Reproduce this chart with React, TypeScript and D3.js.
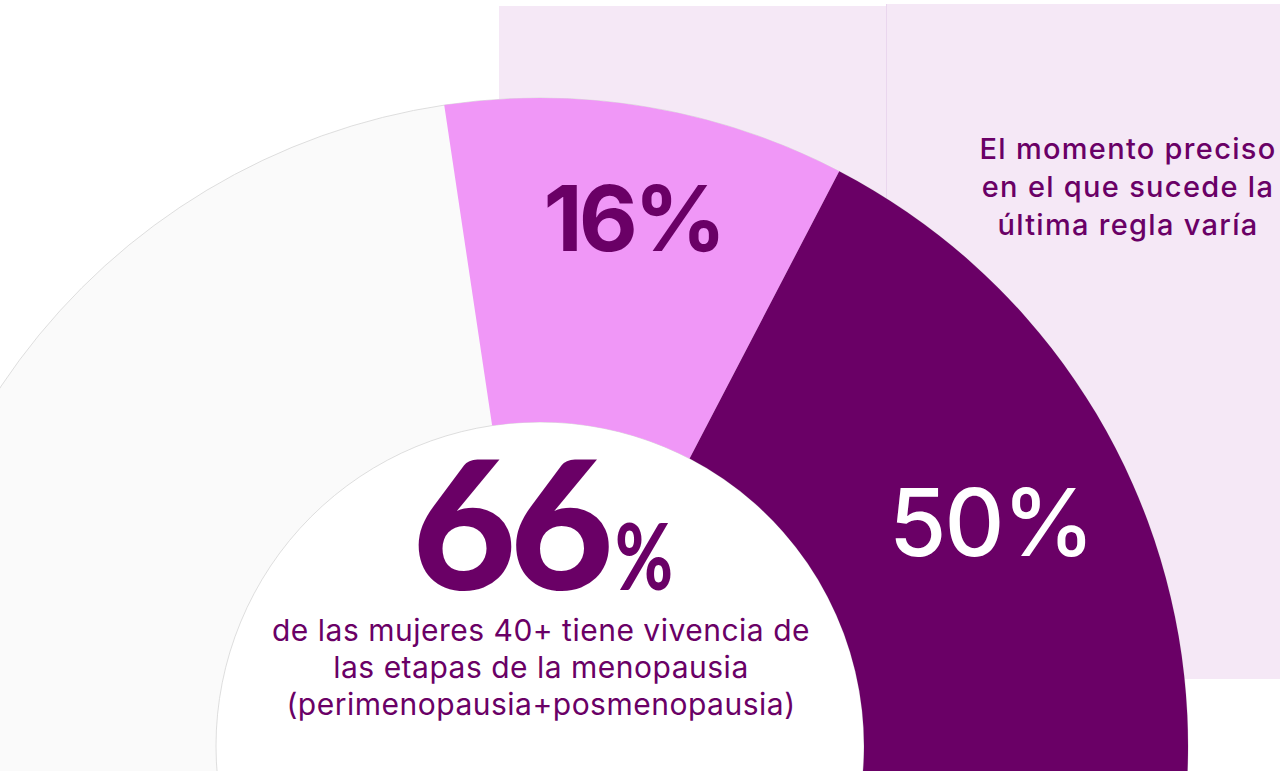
import { useEffect, useRef } from 'react';
import * as d3 from 'd3';

// two stages that add up to the headline figure
const stages = ['perimenopausia', 'posmenopausia'];
const shares = [16, 50];
const shareLabels = ['16%', '50%'];
const totalShare = 66;

const headlineLines = [
  'de las mujeres 40+ tiene vivencia de',
  'las etapas de la menopausia',
  '(perimenopausia+posmenopausia)',
];
const sideNoteLines = ['El momento preciso', 'en el que sucede la', 'última regla varía'];

const PURPLE = '#6a0066';
const PINK = '#f097f7';
const LAVENDER = '#f5e8f6';

const App = () => {
  const svgRef = useRef<SVGSVGElement | null>(null);

  useEffect(() => {
    const width = 1280;
    const height = 771;
    const cx = 540;
    const cy = 746;
    const outerR = 648;
    const innerR = 324;

    const svg = d3.select(svgRef.current).attr('width', width).attr('height', height);
    svg.selectAll('*').remove();

    // background panels behind the ring
    svg.append('rect').attr('x', 499).attr('y', 6).attr('width', 387).attr('height', 673).attr('fill', LAVENDER);
    svg.append('rect').attr('x', 886).attr('y', 4).attr('width', 394).attr('height', 675).attr('fill', LAVENDER);
    svg.append('line')
      .attr('x1', 886.5).attr('x2', 886.5).attr('y1', 4).attr('y2', 679)
      .attr('stroke', '#ead6ee').attr('stroke-width', 1);

    const g = svg.append('g').attr('transform', `translate(${cx},${cy})`);

    // percent -> angle (gauge style, starting a bit left of 12 o'clock)
    const angle = d3.scaleLinear()
      .domain([0, 100])
      .range([(-8.5 * Math.PI) / 180, (216.5 * Math.PI) / 180]);

    const arc = d3.arc<any>().innerRadius(innerR).outerRadius(outerR);

    // white hole
    g.append('circle').attr('r', innerR).attr('fill', '#ffffff');

    // grey track
    g.append('path')
      .attr('d', arc({ startAngle: 0, endAngle: 2 * Math.PI }))
      .attr('fill', '#fafafa')
      .attr('stroke', '#d6d6d6')
      .attr('stroke-width', 0.8);

    const ends = d3.cumsum(shares);
    const segs = stages.map((s, i) => ({
      stage: s,
      startAngle: angle(ends[i] - shares[i]),
      endAngle: angle(ends[i]),
    }));
    const color = d3.scaleOrdinal<string, string>().domain(stages).range([PINK, PURPLE]);

    g.selectAll('.seg')
      .data(segs)
      .enter()
      .append('path')
      .attr('class', 'seg')
      .attr('d', (d) => arc(d))
      .attr('fill', (d) => color(d.stage));

    // share labels
    const labelPos = [
      { x: 633, y: 251, fill: PURPLE, weight: 700, size: 91, ls: -4 },
      { x: 991, y: 556, fill: '#ffffff', weight: 500, size: 93, ls: -2 },
    ];
    svg.selectAll('.share-label')
      .data(shareLabels)
      .enter()
      .append('text')
      .attr('class', 'share-label')
      .attr('x', (_, i) => labelPos[i].x)
      .attr('y', (_, i) => labelPos[i].y)
      .attr('text-anchor', 'middle')
      .style('font-family', 'Inter, sans-serif')
      .style('font-size', (_, i) => `${labelPos[i].size}px`)
      .style('font-weight', (_, i) => labelPos[i].weight)
      .style('letter-spacing', (_, i) => `${labelPos[i].ls}px`)
      .style('fill', (_, i) => labelPos[i].fill)
      .text((d) => d);

    // big total in the middle
    svg.append('text')
      .attr('x', 412)
      .attr('y', 590)
      .style('font-family', 'Lato, sans-serif')
      .style('font-weight', 900)
      .style('font-size', '180px')
      .style('letter-spacing', '-7px')
      .style('fill', PURPLE)
      .text(String(totalShare));
    svg.append('text')
      .attr('x', 615)
      .attr('y', 590)
      .attr('textLength', 58)
      .attr('lengthAdjust', 'spacingAndGlyphs')
      .style('font-family', 'Lato, sans-serif')
      .style('font-weight', 900)
      .style('font-size', '92px')
      .style('fill', PURPLE)
      .text('%');

    svg.selectAll('.headline')
      .data(headlineLines)
      .enter()
      .append('text')
      .attr('class', 'headline')
      .attr('x', 541)
      .attr('y', (_, i) => 641 + i * 37)
      .attr('text-anchor', 'middle')
      .style('font-family', 'Inter, sans-serif')
      .style('font-size', '30px')
      .style('font-weight', 400)
      .style('letter-spacing', '0.5px')
      .style('fill', PURPLE)
      .text((d) => d);

    svg.selectAll('.side-note')
      .data(sideNoteLines)
      .enter()
      .append('text')
      .attr('class', 'side-note')
      .attr('x', 1128)
      .attr('y', (_, i) => 159 + i * 38)
      .attr('text-anchor', 'middle')
      .style('font-family', 'Inter, sans-serif')
      .style('font-size', '29px')
      .style('font-weight', 500)
      .style('letter-spacing', '1.3px')
      .style('fill', PURPLE)
      .text((d) => d);
  }, []);

  return (
    <svg
      ref={svgRef}
      style={{ position: 'absolute', left: 0, top: 0, display: 'block', background: '#ffffff' }}
    />
  );
};

export default App;
